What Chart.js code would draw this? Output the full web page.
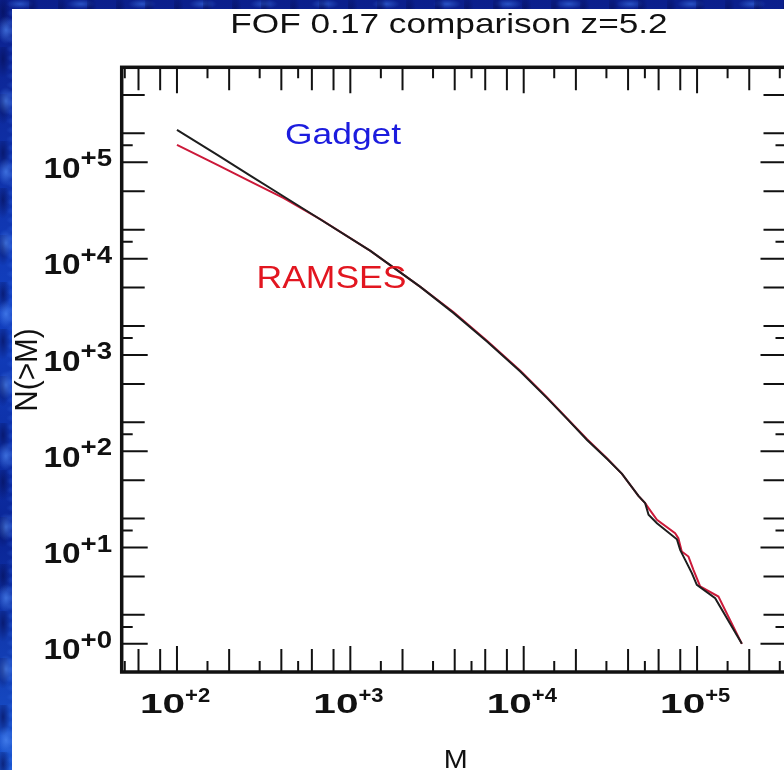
<!DOCTYPE html>
<html>
<head>
<meta charset="utf-8">
<title>FOF 0.17 comparison z=5.2</title>
<script src="https://cdn.jsdelivr.net/npm/chart.js@4.4.1/dist/chart.umd.min.js"></script>
<style>
  html, body {
    margin: 0;
    padding: 0;
    width: 784px;
    height: 770px;
    overflow: hidden;
  }
  body {
    position: relative;
    background-color: #0d2aa0;
    background-image:
      radial-gradient(ellipse 9px 14px at 6px 30px, rgba(90, 150, 255, 0.6), transparent),
      radial-gradient(ellipse 7px 19px at 3px 12px, rgba(5, 15, 90, 0.7), transparent),
      radial-gradient(ellipse 14px 5px at 20px 4px, rgba(70, 130, 250, 0.5), transparent),
      linear-gradient(180deg, #0b1f8c, #1240c0 40%, #0a2596 70%, #1a55d0);
    background-size: 37px 71px, 29px 47px, 61px 9px, 100% 100%;
  }
  #panel {
    position: absolute;
    left: 12px;
    top: 9px;
    right: 0;
    bottom: 0;
    background: #fff;
  }
  #wrap {
    position: absolute;
    left: 0;
    top: 0;
    width: 800px;
    height: 770px;
  }
</style>
</head>
<body>
<div id="panel"></div>
<div id="wrap"><canvas id="massChart" width="800" height="770"></canvas></div>
<script>
  // Cumulative halo mass function N(>M), Gadget run
  const gadgetMass = [100, 171, 266, 413, 673, 1306, 2535, 3945, 6140, 9560, 13600, 17800, 23200,
    30200, 36900, 45900, 50200, 52500, 58700, 76500, 79900, 85400, 93300, 99700, 127200, 181300];
  const gadgetCount = [217000, 119700, 72400, 44200, 25500, 12050, 5090, 2716, 1377, 673, 358, 217, 131,
    83.4, 58.3, 34.4, 28.9, 21.9, 17.9, 12.2, 9.46, 7.45, 5.42, 4.1, 2.98, 1];

  // Same quantity for the RAMSES run
  const ramsesMass = [100, 171, 266, 413, 673, 1306, 2535, 3945, 6140, 9560, 13600, 17800, 23200,
    30200, 36900, 45900, 50200, 52500, 58700, 74700, 78000, 81600, 89200, 95300, 104200, 132800, 181300];
  const ramsesCount = [152000, 94200, 63200, 42500, 25500, 12050, 5090, 2770, 1400, 684, 364, 219, 133,
    84.5, 58.3, 34.4, 28.9, 25.7, 19.4, 14.1, 12.5, 9.09, 8.06, 5.87, 3.94, 3.1, 1];

  // Axis ranges and tick layout (multipliers inside each decade)
  const xRange = [48, 328000];
  const yRange = [0.51, 970000];
  const xLabelExps = [2, 3, 4, 5];
  const yLabelExps = [0, 1, 2, 3, 4, 5];
  const xLongMult = [2, 4, 6, 8];
  const xShortMult = [1.5, 3, 5];
  const yLongMult = [2, 5];
  const yShortMult = [1.5];

  const FONT = '"Liberation Sans", Arial, Helvetica, sans-serif';

  const toPoints = (xs, ys) => xs.map((m, i) => ({ x: m, y: ys[i] }));

  // Draws text squeezed or stretched horizontally
  function stretchedText(ctx, text, x, y, sx, align) {
    ctx.save();
    ctx.translate(x, y);
    ctx.scale(sx, 1);
    ctx.textAlign = align || 'left';
    ctx.fillText(text, 0, 0);
    ctx.restore();
  }

  const framePlugin = {
    id: 'frame',
    afterDatasetsDraw(chart) {
      const { ctx, chartArea: a, scales: { x, y } } = chart;
      ctx.save();
      ctx.strokeStyle = '#111';
      ctx.lineCap = 'butt';

      const decades = (lo, hi) => {
        const out = [];
        for (let e = Math.floor(Math.log10(lo)); e <= Math.ceil(Math.log10(hi)); e++) out.push(e);
        return out;
      };
      const tickSet = (range, longM, shortM) => {
        const list = [];
        decades(range[0], range[1]).forEach(e => {
          list.push([Math.pow(10, e), 26]);
          longM.forEach(m => list.push([m * Math.pow(10, e), 23]));
          shortM.forEach(m => list.push([m * Math.pow(10, e), 11]));
        });
        return list.filter(([v]) => v > range[0] && v < range[1]);
      };

      ctx.lineWidth = 2;
      ctx.beginPath();
      tickSet(xRange, xLongMult, xShortMult).forEach(([v, len]) => {
        const px = x.getPixelForValue(v);
        ctx.moveTo(px, a.bottom);
        ctx.lineTo(px, a.bottom - len);
        ctx.moveTo(px, a.top);
        ctx.lineTo(px, a.top + len);
      });
      tickSet(yRange, yLongMult, yShortMult).forEach(([v, len]) => {
        const py = y.getPixelForValue(v);
        ctx.moveTo(a.left, py);
        ctx.lineTo(a.left + len, py);
        ctx.moveTo(a.right, py);
        ctx.lineTo(a.right - len, py);
      });
      ctx.stroke();

      ctx.lineWidth = 3.5;
      ctx.strokeRect(a.left, a.top, a.right - a.left, a.bottom - a.top);
      ctx.restore();
    },
    afterDraw(chart) {
      const { ctx, scales: { x, y } } = chart;
      ctx.save();
      ctx.fillStyle = '#111';
      ctx.textBaseline = 'alphabetic';

      // y tick labels: 10^+n, right aligned next to the axis
      yLabelExps.forEach(e => {
        const py = y.getPixelForValue(Math.pow(10, e));
        const sup = '+' + e;
        ctx.font = 'bold 23px ' + FONT;
        const wSup = ctx.measureText(sup).width * 1.2;
        stretchedText(ctx, sup, 112, py + 4, 1.2, 'right');
        ctx.font = 'bold 29px ' + FONT;
        stretchedText(ctx, '10', 112 - wSup, py + 15.6, 1.15, 'right');
      });

      // x tick labels: 10^+n under each decade
      xLabelExps.forEach(e => {
        const px = x.getPixelForValue(Math.pow(10, e));
        ctx.font = 'bold 28px ' + FONT;
        const w10 = ctx.measureText('10').width * 1.45;
        stretchedText(ctx, '10', px - 37, 712.7, 1.45, 'left');
        ctx.font = 'bold 20px ' + FONT;
        stretchedText(ctx, '+' + e, px - 37 + w10, 701.7, 1.1, 'left');
      });

      // title and axis titles
      ctx.font = '27.5px ' + FONT;
      stretchedText(ctx, 'FOF 0.17 comparison z=5.2', 449, 32.8, 1.28, 'center');
      ctx.font = '25px ' + FONT;
      stretchedText(ctx, 'M', 455.6, 768, 1.15, 'center');

      ctx.save();
      ctx.translate(37, 370);
      ctx.rotate(-Math.PI / 2);
      ctx.scale(1.1, 1.19);
      ctx.font = '27px ' + FONT;
      ctx.textAlign = 'center';
      ctx.fillText('N(>M)', 0, 0);
      ctx.restore();

      // run names
      ctx.font = '30px ' + FONT;
      ctx.fillStyle = 'rgb(28, 28, 222)';
      stretchedText(ctx, 'Gadget', 285, 144, 1.18, 'left');
      ctx.font = '32px ' + FONT;
      ctx.fillStyle = 'rgb(226, 22, 32)';
      stretchedText(ctx, 'RAMSES', 256.5, 288, 1.11, 'left');
      ctx.restore();
    }
  };

  new Chart(document.getElementById('massChart'), {
    type: 'line',
    data: {
      datasets: [
        {
          label: 'Gadget',
          data: toPoints(gadgetMass, gadgetCount),
          borderColor: '#1e1e1e',
          borderWidth: 2,
          pointRadius: 0,
          tension: 0
        },
        {
          label: 'RAMSES',
          data: toPoints(ramsesMass, ramsesCount),
          borderColor: 'rgb(204, 26, 58)',
          borderWidth: 2,
          pointRadius: 0,
          tension: 0
        }
      ]
    },
    options: {
      responsive: false,
      animation: false,
      devicePixelRatio: 1,
      layout: {
        padding: { left: 121.7, right: 13.5, top: 67.3, bottom: 98 }
      },
      plugins: {
        legend: { display: false },
        title: { display: false },
        tooltip: { enabled: false }
      },
      scales: {
        x: { type: 'logarithmic', display: false, min: xRange[0], max: xRange[1] },
        y: { type: 'logarithmic', display: false, min: yRange[0], max: yRange[1] }
      }
    },
    plugins: [framePlugin]
  });
</script>
</body>
</html>
